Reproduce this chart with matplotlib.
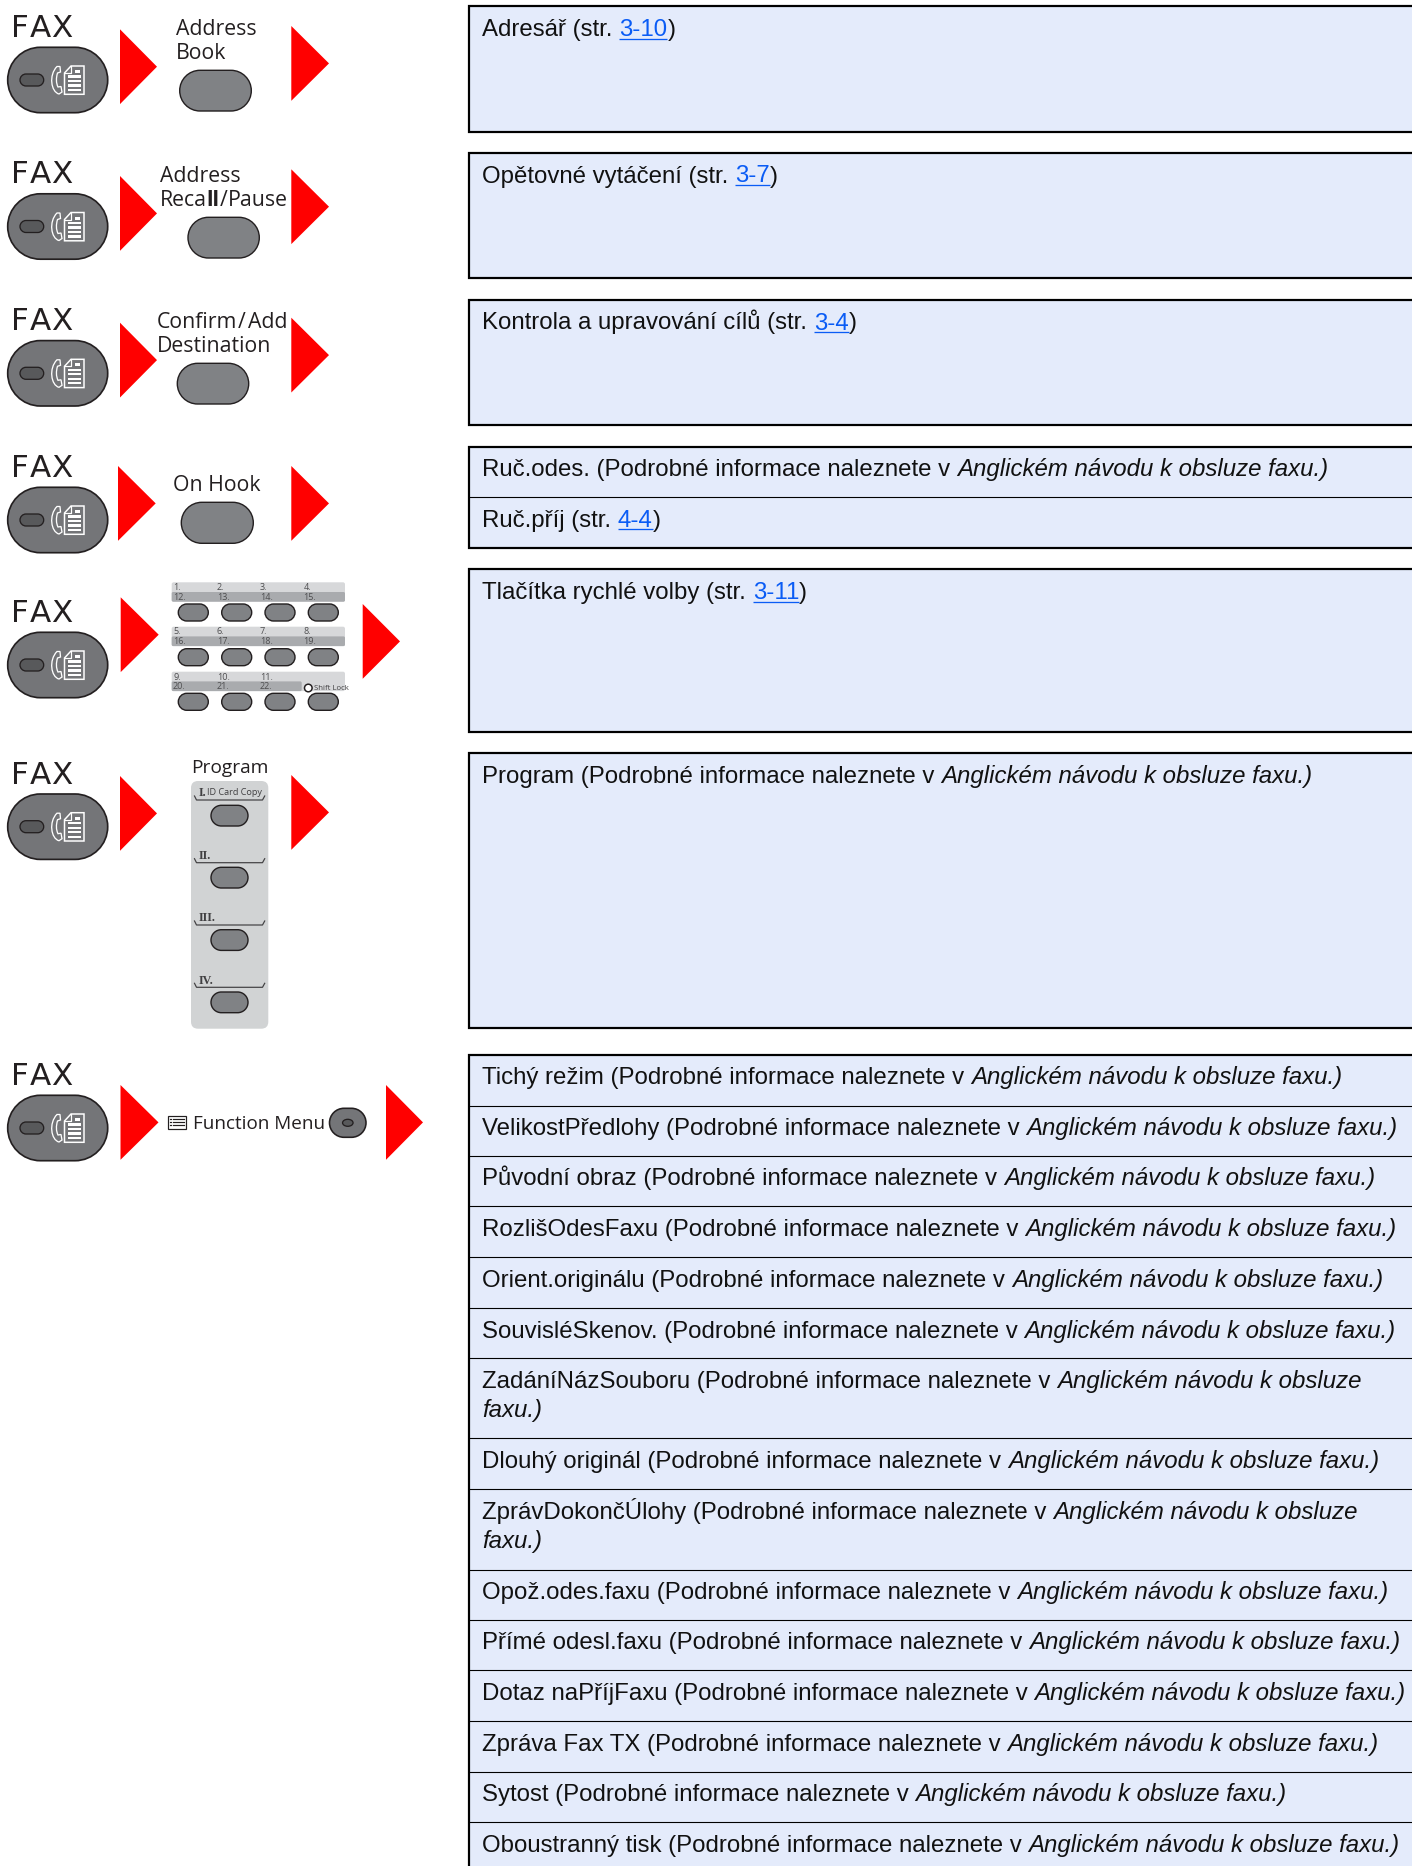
import matplotlib
matplotlib.use("Agg")
import matplotlib.pyplot as plt
from matplotlib.font_manager import FontProperties
from matplotlib.patches import FancyBboxPatch, Polygon, Circle, Rectangle, PathPatch, Ellipse
from matplotlib.path import Path

W, H = 1412, 1866
DPI = 100
PX = 72 / DPI

RED = "#ff0000"
BOX_BG = "#e4ebfb"
LINK = "#0a5cf5"
BTN = "#808285"
OVAL = "#747578"
DARK = "#231f20"
INK = "#111111"

REF = " (Podrobné informace naleznete v "
MANUAL = "Anglickém návodu k obsluze faxu.)"
MANUAL_CUT = "Anglickém návodu k obsluze"

# y of the FAX ovals, label baselines
fax_centers = [80, 226.5, 373.3, 520, 665, 826.7, 1128]
fax_baselines = [36.7, 183, 330, 476.7, 621.7, 784, 1085]
fax_letters = [("F", 11.5), ("A", 29.5), ("X", 51)]

# first and second red arrow per row: left x, top y, right x
arrows_a = [(120, 29.3, 157), (120, 176, 157), (120, 322.7, 157), (118, 466, 155.7),
            (120.7, 597.3, 158.7), (120, 776, 157), (120.5, 1085, 158.5)]
arrows_b = [(291.3, 26, 329), (291.3, 169.3, 329), (291.3, 317.7, 329), (291.3, 466, 329),
            (362.7, 604, 400), (291.3, 775, 329), (386, 1085, 423)]

# single key rows: labels (text, x, baseline), key (x0, x1, y0, y1)
key_labels = [("Address", 176, 35), ("Book", 176, 59.3),
              ("Address", 160.3, 181.7), ("Reca", 160.3, 206), ("/", 219.5, 206), ("Pause", 228, 206),
              ("Confirm", 157, 327.7), ("/", 237.5, 327.7), ("Add", 248.5, 327.7), ("Destination", 157, 352),
              ("On Hook", 173, 491)]
keys = [(179.7, 251.3, 70.3, 111), (188, 259.3, 217.3, 258),
        (177.3, 248.7, 363.3, 404), (181.3, 253.3, 502.3, 543.3)]

# keypad
pad_x = [193.3, 236.7, 280, 323.3]
pad_label_x = [173, 216.7, 260, 303.3]
pad_strips = [582.3, 626.7, 671.7]
pad_keys_y = [604, 648.7, 693.3]
pad_top = [["1.", "2.", "3.", "4."], ["5.", "6.", "7.", "8."], ["9.", "10.", "11.", ""]]
pad_low = [["12.", "13.", "14.", "15."], ["16.", "17.", "18.", "19."], ["20.", "21.", "22.", ""]]

# program panel
prog_marks = ["I.", "II.", "III.", "IV."]
prog_mark_y = [796, 859, 921, 983.7]
prog_line_y = [800, 862.7, 925, 987.3]
prog_key_y = [805.3, 867.3, 929.7, 992]

# right hand boxes
box_edges = [(6, 132), (153, 278), (300, 425), (447, 547.6), (568.7, 731.7), (752.7, 1027.7), (1055, 1900)]
row_lines = [497, 1105.7, 1156.3, 1206.3, 1257.3, 1308.3, 1358.4, 1438.3, 1489.3,
             1569.5, 1620.4, 1670.4, 1721.4, 1772.4, 1822.4]

# text rows: baseline, list of (string, style); n normal, i italic, l link
rows = [
    (36, [("Adresář (str. ", "n"), ("3-10", "l"), (")", "n")]),
    (182.5, [("Opětovné vytáčení (str. ", "n"), ("3-7", "l"), (")", "n")]),
    (329.5, [("Kontrola a upravování cílů (str. ", "n"), ("3-4", "l"), (")", "n")]),
    (475.7, [("Ruč.odes." + REF, "n"), (MANUAL, "i")]),
    (526.7, [("Ruč.příj (str. ", "n"), ("4-4", "l"), (")", "n")]),
    (599, [("Tlačítka rychlé volby (str. ", "n"), ("3-11", "l"), (")", "n")]),
    (783, [("Program" + REF, "n"), (MANUAL, "i")]),
    (1084.3, [("Tichý režim" + REF, "n"), (MANUAL, "i")]),
    (1135.3, [("VelikostPředlohy" + REF, "n"), (MANUAL, "i")]),
    (1185.5, [("Původní obraz" + REF, "n"), (MANUAL, "i")]),
    (1236.3, [("RozlišOdesFaxu" + REF, "n"), (MANUAL, "i")]),
    (1287.3, [("Orient.originálu" + REF, "n"), (MANUAL, "i")]),
    (1337.8, [("SouvisléSkenov." + REF, "n"), (MANUAL, "i")]),
    (1387.6, [("ZadáníNázSouboru" + REF, "n"), (MANUAL_CUT, "i")]),
    (1417.2, [("faxu.)", "i")]),
    (1468.1, [("Dlouhý originál" + REF, "n"), (MANUAL, "i")]),
    (1518.8, [("ZprávDokončÚlohy" + REF, "n"), (MANUAL_CUT, "i")]),
    (1548, [("faxu.)", "i")]),
    (1599, [("Opož.odes.faxu" + REF, "n"), (MANUAL, "i")]),
    (1649, [("Přímé odesl.faxu" + REF, "n"), (MANUAL, "i")]),
    (1700.3, [("Dotaz naPříjFaxu" + REF, "n"), (MANUAL, "i")]),
    (1751, [("Zpráva Fax TX" + REF, "n"), (MANUAL, "i")]),
    (1801.3, [("Sytost" + REF, "n"), (MANUAL, "i")]),
    (1851.6, [("Oboustranný tisk" + REF, "n"), (MANUAL, "i")]),
]

fig = plt.figure(figsize=(W / DPI, H / DPI), dpi=DPI)
ax = fig.add_axes([0, 0, 1, 1])
ax.set_xlim(0, W)
ax.set_ylim(H, 0)
ax.axis("off")
renderer = fig.canvas.get_renderer()


def pill(x0, x1, y0, y1, face=BTN, lw=1.4, z=3):
    # stadium outline, real round ends
    r = (y1 - y0) / 2
    k = 0.5523 * r
    ym = (y0 + y1) / 2
    verts = [(x0 + r, y0), (x1 - r, y0),
             (x1 - r + k, y0), (x1, ym - k), (x1, ym),
             (x1, ym + k), (x1 - r + k, y1), (x1 - r, y1),
             (x0 + r, y1),
             (x0 + r - k, y1), (x0, ym + k), (x0, ym),
             (x0, ym - k), (x0 + r - k, y0), (x0 + r, y0),
             (x0 + r, y0)]
    codes = [Path.MOVETO, Path.LINETO] + [Path.CURVE4] * 6 + [Path.LINETO] + [Path.CURVE4] * 6 + [Path.CLOSEPOLY]
    ax.add_patch(PathPatch(Path(verts, codes), fc=face, ec=DARK, lw=lw * PX, zorder=z))


def label(x, y, s, size, family="Open Sans", color=DARK, **kw):
    ax.text(x, y, s, fontsize=size * PX, family=family, color=color, va="baseline", ha="left", **kw)


def arrow(x0, top, x1):
    ax.add_patch(Polygon([(x0, top), (x1, top + 37.4), (x0, top + 74.8)], closed=True, fc=RED, ec="none", zorder=2))


def fax_key(cy):
    pill(7.7, 107.7, cy - 32.7, cy + 32.7, face=OVAL, lw=1.7)
    pill(20, 43.7, cy - 6, cy + 6, face="#58595b", lw=1.3, z=4)
    # handset
    verts = [(57, cy - 13.5), (60, cy - 13.5), (60.5, cy - 8), (57.5, cy - 7),
             (56, cy - 2), (56, cy + 3), (58, cy + 7), (61, cy + 6.5), (62, cy + 12), (59, cy + 14),
             (51, cy + 12), (48.5, cy - 5), (57, cy - 13.5), (57, cy - 13.5)]
    codes = [Path.MOVETO, Path.LINETO, Path.LINETO, Path.LINETO,
             Path.CURVE4, Path.CURVE4, Path.CURVE4, Path.LINETO, Path.LINETO, Path.LINETO,
             Path.CURVE4, Path.CURVE4, Path.CURVE4, Path.CLOSEPOLY]
    ax.add_patch(PathPatch(Path(verts, codes), fc="none", ec="white", lw=1.3 * PX, zorder=5))
    # sheet with folded corner
    ax.add_patch(Polygon([(71, cy - 14), (84, cy - 14), (84, cy + 14.3), (64.5, cy + 14.3), (64.5, cy - 7)],
                         closed=True, fc="none", ec="white", lw=1.5 * PX, zorder=5))
    ax.plot([71, 71, 64.5], [cy - 14, cy - 7, cy - 7], color="white", lw=1.2 * PX, zorder=5)
    ax.add_patch(Rectangle((74.5, cy - 10), 5, 3.2, fc="white", ec="none", zorder=5))
    for dy in (-3.5, 1, 5.5, 10):
        ax.add_patch(Rectangle((68, dy + cy - 1.2), 13, 2.4, fc="white", ec="none", zorder=5))


def text_width(s, prop):
    w0 = renderer.get_text_width_height_descent("|", prop, False)[0]
    w1 = renderer.get_text_width_height_descent(s + "|", prop, False)[0]
    return w1 - w0


def text_row(x, y, runs, size=23.95):
    for s, style in runs:
        prop = FontProperties(family="Liberation Sans", size=size * PX,
                              style="italic" if style == "i" else "normal")
        color = LINK if style == "l" else INK
        ax.text(x, y, s, fontproperties=prop, color=color, va="baseline", ha="left", zorder=6)
        w = text_width(s, prop)
        if style == "l":
            ax.plot([x, x + w], [y + 2.6, y + 2.6], color=LINK, lw=1.3 * PX, zorder=6, solid_capstyle="butt")
        x += w


for cy, by in zip(fax_centers, fax_baselines):
    fax_key(cy)
    for ch, x in fax_letters:
        label(x, by, ch, 31, family="DejaVu Sans")

for a, b in zip(arrows_a, arrows_b):
    arrow(*a)
    arrow(*b)

for s, x, y in key_labels:
    label(x, y, s, 21.3)
label(206.5, 206, "ll", 21.3, weight="bold")
for x0, x1, y0, y1 in keys:
    pill(x0, x1, y0, y1)

# keypad
for i, top in enumerate(pad_strips):
    ax.add_patch(FancyBboxPatch((171.7, top), 173.3, 19.4, boxstyle="round,pad=0,rounding_size=2",
                                fc="#d7d8da", ec="none", zorder=2))
    lower_w = 130 if i == 2 else 173.3
    ax.add_patch(FancyBboxPatch((171.7, top + 9.7), lower_w, 9.7, boxstyle="round,pad=0,rounding_size=1.5",
                                fc="#a9abae", ec="none", zorder=2))
    for k in range(4):
        label(pad_label_x[k], top + 7.8, pad_top[i][k], 9, color="#4d4d4f", zorder=3)
        label(pad_label_x[k], top + 17.7, pad_low[i][k], 9, color="#4d4d4f", zorder=3)
        pill(pad_x[k] - 15, pad_x[k] + 15, pad_keys_y[i], pad_keys_y[i] + 17)
ax.add_patch(Circle((308.3, 688), 3.8, fc="white", ec=DARK, lw=1.5 * PX, zorder=4))
label(313.7, 690.5, "Shift Lock", 7.8, color="#414042", zorder=4)

# program panel
label(191.5, 772.7, "Program", 19.2)
ax.add_patch(FancyBboxPatch((191, 781), 77.3, 247.7, boxstyle="round,pad=0,rounding_size=7",
                            fc="#d1d3d4", ec="none", zorder=2))
for s, ym, yl, yk in zip(prog_marks, prog_mark_y, prog_line_y, prog_key_y):
    ax.text(199, ym, s, fontsize=12 * PX, family="Liberation Serif", weight="bold", color="#414042",
            va="baseline", ha="left", zorder=3)
    ax.plot([194.5, 196.5, 262.5, 264.7], [yl - 4, yl, yl, yl - 4], color="#414042", lw=1.2 * PX, zorder=3)
    pill(211, 248, yk, yk + 20.7)
label(207.3, 795, "ID Card Copy", 9.2, color="#414042", zorder=3)

# function menu key
ax.add_patch(Rectangle((167.5, 1116), 18.5, 12.5, fc="white", ec=DARK, lw=1.2 * PX, zorder=3))
for dy in (1119, 1122.2, 1125.4):
    ax.plot([169.5, 171], [dy, dy], color=DARK, lw=1.2 * PX, zorder=4)
    ax.plot([172.5, 184], [dy, dy], color=DARK, lw=1.2 * PX, zorder=4)
label(192.9, 1128.7, "Function Menu", 18.9)
pill(329.5, 366, 1108.3, 1137.3, face=OVAL, lw=1.6)
ax.add_patch(Ellipse((347.8, 1122.8), 10.5, 7, fc="#58595b", ec=DARK, lw=1.3 * PX, zorder=4))

# right hand boxes
for y0, y1 in box_edges:
    ax.add_patch(Rectangle((468.5, y0), W, y1 - y0, fc=BOX_BG, ec="#000000", lw=2.2 * PX, zorder=1))
for y in row_lines:
    ax.plot([468.5, W], [y, y], color="#000000", lw=1.1 * PX, zorder=2, solid_capstyle="butt")
for y, runs in rows:
    text_row(482.3, y, runs)

fig.savefig("out.png", dpi=DPI, facecolor="white")
